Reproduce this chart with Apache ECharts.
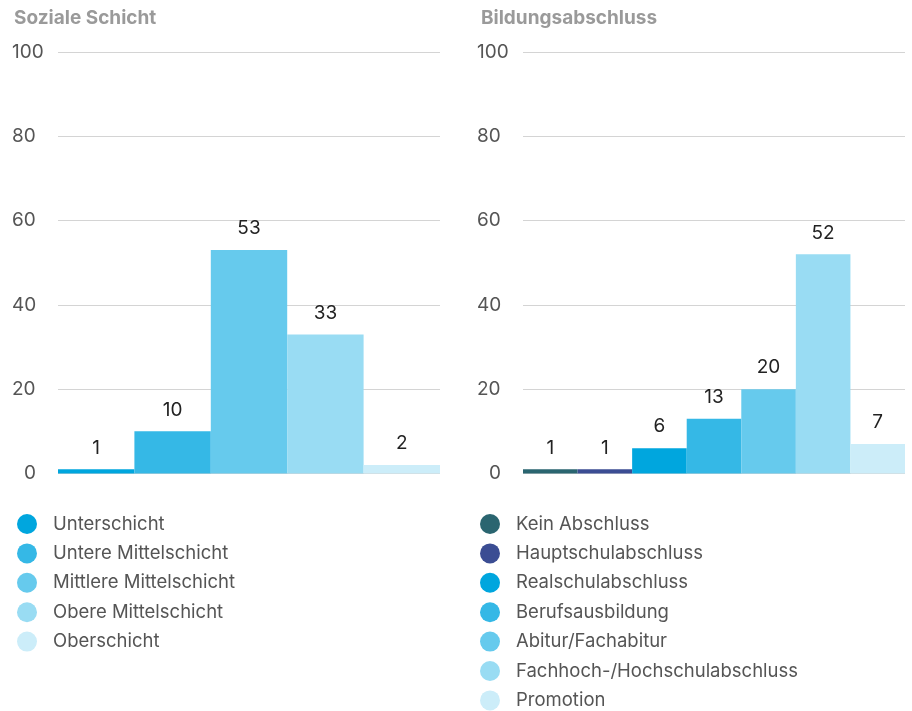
<!DOCTYPE html>
<html>
<head>
<meta charset="utf-8">
<script src="https://cdn.jsdelivr.net/npm/echarts@6/dist/echarts.min.js"></script>
<style>
  html, body { margin: 0; padding: 0; background: #fff; }
  #chart { width: 912px; height: 711px; }
</style>
</head>
<body>
<div id="chart"></div>
<script>
// Soziale Schicht
var schichtNames = ["Unterschicht", "Untere Mittelschicht", "Mittlere Mittelschicht", "Obere Mittelschicht", "Oberschicht"];
var schichtValues = [1, 10, 53, 33, 2];
var schichtColors = ["#00a6de", "#35b8e6", "#66caed", "#99dcf3", "#ccedf9"];

// Bildungsabschluss
var bildungNames = ["Kein Abschluss", "Hauptschulabschluss", "Realschulabschluss", "Berufsausbildung", "Abitur/Fachabitur", "Fachhoch-/Hochschulabschluss", "Promotion"];
var bildungValues = [1, 1, 6, 13, 20, 52, 7];
var bildungColors = ["#2a6570", "#3b4d93", "#00a6de", "#35b8e6", "#66caed", "#99dcf3", "#ccedf9"];

var yTicks = [0, 20, 40, 60, 80, 100];

var fontFam = "Inter, 'Liberation Sans', sans-serif";

function buildSeries(names, values, colors, axisIdx, stackName) {
  return names.map(function (n, i) {
    var d = values.map(function (v, j) { return j === i ? v : "-"; });
    return {
      name: n,
      type: "bar",
      stack: stackName,
      xAxisIndex: axisIdx,
      yAxisIndex: axisIdx,
      barWidth: "100%",
      barCategoryGap: 0,
      itemStyle: { color: colors[i] },
      label: {
        show: true,
        position: "top",
        distance: 12,
        fontSize: 19,
        color: "#222",
        fontFamily: fontFam
      },
      data: d
    };
  });
}

function yAxisFor(idx) {
  return {
    gridIndex: idx,
    type: "value",
    min: yTicks[0],
    max: yTicks[yTicks.length - 1],
    interval: 20,
    axisLine: { show: false },
    axisTick: { show: false },
    splitLine: { lineStyle: { color: "#d4d4d4", width: 1 } },
    axisLabel: {
      align: "left",
      margin: 46,
      fontSize: 19,
      color: "#555",
      fontFamily: fontFam,
      formatter: function (v) { return v === 0 ? "{z|0}" : String(v); },
      rich: { z: { padding: [0, 0, 0, 12], fontSize: 19, color: "#555", fontFamily: fontFam } }
    }
  };
}

function xAxisFor(idx, names) {
  return {
    gridIndex: idx,
    type: "category",
    data: names,
    axisLine: { show: false },
    axisTick: { show: false },
    axisLabel: { show: false }
  };
}

function legendFor(names, left) {
  return {
    data: names,
    orient: "vertical",
    left: left,
    top: 514,
    height: 197,
    padding: 0,
    icon: "circle",
    itemWidth: 20,
    itemHeight: 20,
    itemGap: 9.4,
    selectedMode: false,
    textStyle: { fontSize: 18.5, lineHeight: 20, color: "#555", fontFamily: fontFam, padding: [0, 0, 0, 11] }
  };
}

var chart = echarts.init(document.getElementById("chart"));
chart.setOption({
  animation: false,
  backgroundColor: "#fff",
  title: [
    { text: "Soziale Schicht", left: 9, top: 4, textStyle: { fontSize: 19, fontWeight: "bold", color: "#9a9a9a", fontFamily: fontFam } },
    { text: "Bildungsabschluss", left: 476, top: 4, textStyle: { fontSize: 19, fontWeight: "bold", color: "#9a9a9a", fontFamily: fontFam } }
  ],
  grid: [
    { left: 58, right: 472, top: 52, bottom: 237.5 },
    { left: 523, right: 7, top: 52, bottom: 237.5 }
  ],
  xAxis: [xAxisFor(0, schichtNames), xAxisFor(1, bildungNames)],
  yAxis: [yAxisFor(0), yAxisFor(1)],
  legend: [legendFor(schichtNames, 17), legendFor(bildungNames, 480)],
  series: buildSeries(schichtNames, schichtValues, schichtColors, 0, "s")
    .concat(buildSeries(bildungNames, bildungValues, bildungColors, 1, "b"))
});
</script>
</body>
</html>
